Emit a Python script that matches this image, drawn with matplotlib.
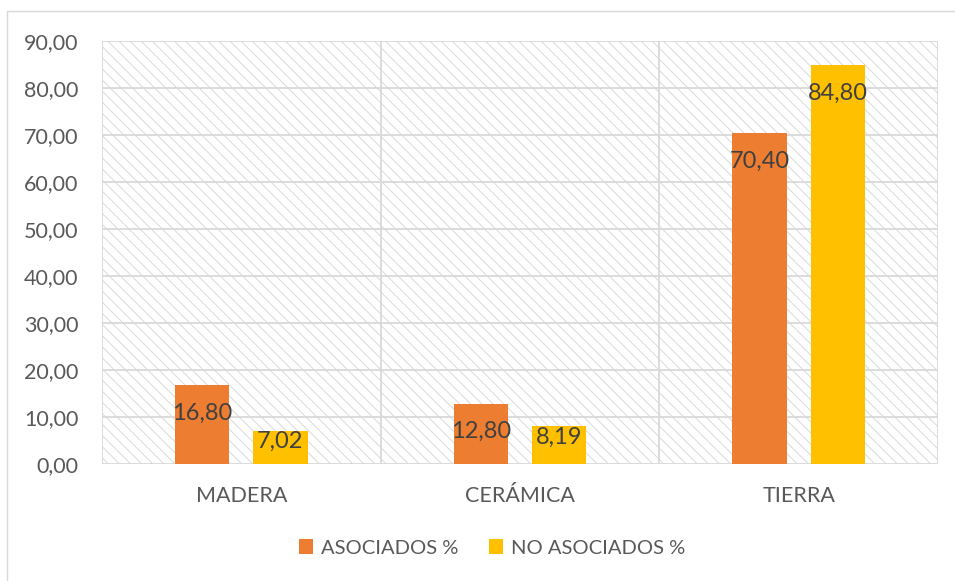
import matplotlib.pyplot as plt
from matplotlib.patches import Rectangle
import numpy as np

categories = ["MADERA", "CERÁMICA", "TIERRA"]
asociados = [16.80, 12.80, 70.40]
no_asociados = [7.02, 8.19, 84.80]
series_names = ["ASOCIADOS %", "NO ASOCIADOS %"]
y_ticks = [0, 10, 20, 30, 40, 50, 60, 70, 80, 90]

plt.rcParams['font.family'] = ['Lato', 'DejaVu Sans']
plt.rcParams['hatch.linewidth'] = 0.6
plt.rcParams['hatch.color'] = '#d4d4d4'

W, H = 955, 581
fig = plt.figure(figsize=(W / 100, H / 100), dpi=100)

# outer chart frame
fig.patches.append(Rectangle((7 / W, -0.01), 1.0, 1 - 11 / H + 0.01, transform=fig.transFigure,
                             fill=False, edgecolor='#d9d9d9', linewidth=1.0))

ax = fig.add_axes([102 / W, 1 - 464 / H, (938 - 102) / W, (464 - 41) / H])
ax.set_xlim(-0.5, len(categories) - 0.5)
ax.set_ylim(0, 90)

# hatched plot background
ax.add_patch(Rectangle((0, 0), 1, 1, transform=ax.transAxes, facecolor='white',
                       edgecolor='#d4d4d4', hatch='\\\\\\', linewidth=0, zorder=0))

for y in y_ticks:
    ax.axhline(y, color='#d9d9d9', linewidth=1.3, zorder=1)
for xb in np.arange(-0.5, len(categories), 1.0):
    ax.axvline(xb, color='#d9d9d9', linewidth=1.3, zorder=1)
for s in ax.spines.values():
    s.set_visible(False)

x = np.arange(len(categories))
bw = 0.195
off = 0.14
colors = ['#ED7D31', '#FFC000']
bars1 = ax.bar(x - off, asociados, bw, color=colors[0], label=series_names[0], zorder=2)
bars2 = ax.bar(x + off, no_asociados, bw, color=colors[1], label=series_names[1], zorder=2)

px_per_unit = (464 - 41) / 90
for bars, vals in [(bars1, asociados), (bars2, no_asociados)]:
    for b, v in zip(bars, vals):
        hpx = v * px_per_unit
        dy = 28 if hpx > 50 else hpx * 0.3
        ax.annotate(f"{v:.2f}".replace('.', ','), (b.get_x() + b.get_width() / 2, v),
                    xytext=(0, -dy * 0.72), textcoords='offset points',
                    ha='center', va='center', fontsize=17, color='#404040', zorder=3)

ax.set_yticks(y_ticks)
ax.set_yticklabels([f"{t:.2f}".replace('.', ',') for t in y_ticks])
ax.set_xticks(x)
ax.set_xticklabels(categories)
ax.tick_params(axis='both', length=0, labelsize=15.5, labelcolor='#595959')
ax.tick_params(axis='y', pad=17)
ax.tick_params(axis='x', pad=16)

leg = fig.legend(loc='center', bbox_to_anchor=(492 / W, 1 - 548 / H), ncol=2, frameon=False,
                 fontsize=14.5, handlelength=0.7, handleheight=0.7, handletextpad=0.4,
                 columnspacing=1.5, labelcolor='#595959')

fig.savefig('out.png', dpi=100)
